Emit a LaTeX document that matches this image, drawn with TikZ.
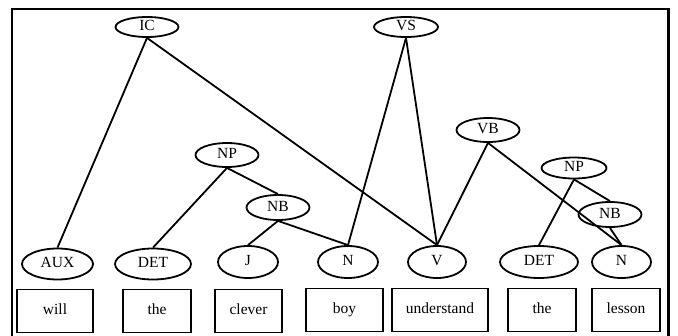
\documentclass[tikz,border=0pt]{standalone}
\usepackage{fontspec}
\setmainfont{Liberation Serif}
\usetikzlibrary{shapes.geometric}
\begin{document}
\begin{tikzpicture}[x=1pt,y=-1pt,
  every node/.style={font=\fontsize{15.5}{18}\selectfont, inner sep=0pt,
    text height=10.5pt, text depth=3.5pt},
  cat/.style={ellipse, draw, line width=1.8pt, minimum height=#1},
  cat/.default=24pt,
  word/.style={rectangle, draw, line width=1.8pt, minimum height=43pt},
  branch/.style={line width=1.8pt}]
\useasboundingbox (0,0) rectangle (678,335);
% outer frame
\draw[line width=2.6pt] (12,340) -- (12,9) -- (668.5,9) -- (668.5,340);

% upper categories
\node[cat=20pt, minimum width=63pt] (IC)  at (147,27)    {IC};
\node[cat=20pt, minimum width=64pt] (VS)  at (406,27)    {VS};
\node[cat, minimum width=63pt]      (NP1) at (227,155)   {NP};
\node[cat, minimum width=63pt]      (VB)  at (488,130)   {VB};
\node[cat=21pt, minimum width=65pt] (NP2) at (574,168)   {NP};
\node[cat=25pt, minimum width=63pt] (NB1) at (278,207.5) {NB};
\node[cat=25pt, minimum width=63pt] (NB2) at (610,214.5) {NB};

% word categories
\node[cat=31pt, minimum width=71pt] (AUX)  at (57.5,264) {AUX};
\node[cat=31pt, minimum width=76pt] (DET1) at (153,264)  {DET};
\node[cat=32pt, minimum width=60pt] (J)    at (248,262)  {J};
\node[cat=32pt, minimum width=60pt] (N1)   at (348,262)  {N};
\node[cat=32pt, minimum width=58pt] (V)    at (437,262)  {V};
\node[cat=32pt, minimum width=78pt] (DET2) at (539,262)  {DET};
\node[cat=32pt, minimum width=59pt] (N2)   at (621.5,262) {N};

% words
\node[word, minimum width=76pt] (w1) at (55,311)    {will};
\node[word, minimum width=68pt] (w2) at (157,311)   {the};
\node[word, minimum width=67pt] (w3) at (248.5,311) {clever};
\node[word, minimum width=77pt] (w4) at (344.5,310) {boy};
\node[word, minimum width=96pt] (w5) at (440,310)   {understand};
\node[word, minimum width=68pt] (w6) at (542,310)   {the};
\node[word, minimum width=68pt] (w7) at (626,310)   {lesson};

% branches
\draw[branch] (IC.south)  -- (AUX.north);
\draw[branch] (IC.south)  -- (V.north);
\draw[branch] (VS.south)  -- (N1.north);
\draw[branch] (VS.south)  -- (V.north);
\draw[branch] (VB.south)  -- (V.north);
\draw[branch] (VB.south)  -- (N2.north);
\draw[branch] (NP1.south) -- (DET1.north);
\draw[branch] (NP1.south) -- (NB1.north);
\draw[branch] (NB1.south) -- (J.north);
\draw[branch] (NB1.south) -- (N1.north);
\draw[branch] (NP2.south) -- (DET2.north);
\draw[branch] (NP2.south) -- (NB2.north);
\draw[branch] (NB2.south) -- (N2.north);
\end{tikzpicture}
\end{document}
